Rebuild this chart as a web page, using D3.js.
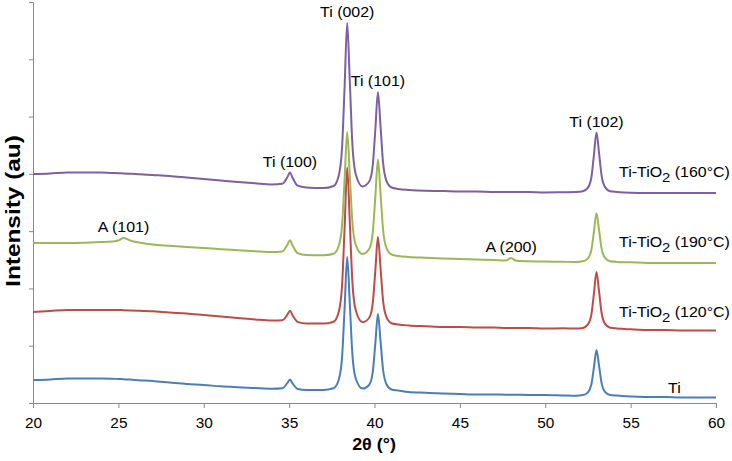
<!DOCTYPE html>
<html><head><meta charset="utf-8">
<script src="https://cdn.jsdelivr.net/npm/d3@7"></script>
<style>
body{margin:0;background:#fff}
svg{display:block}
text{font-family:"Liberation Sans",Arial,Helvetica,sans-serif;fill:#000}
</style>
</head><body>
<svg id="chart" width="732" height="461"></svg>
<script>
// ---- data (2θ in degrees, intensity in arbitrary units, curves already offset as plotted) ----
const twoTheta = [20,21,22,23,24,24.6,25.0,25.3,25.7,26.2,27,28,29,30,31,32,33,34,34.6,34.9,35.05,35.2,35.5,36,37,37.6,37.9,38.1,38.25,38.4,38.55,38.7,38.9,39.3,39.7,39.9,40.05,40.2,40.35,40.5,40.7,41.0,41.4,42,43,44,45,46,47,47.7,48.0,48.3,49,50,51,51.8,52.2,52.5,52.7,52.85,53.0,53.15,53.3,53.5,53.8,54.2,55,56,57,58,59,60];
const ti = [230,235,245,245,245,243,240,238,234,228,220,205,190,180,167,158,150,143,148,200,235,197,140,129,130,148,230,457,953,1463,1007,499,245,144,185,314,598,890,627,335,188,135,124,109,102,95,90,85,85,83,83,83,80,80,76,73,79,107,185,355,530,374,199,111,80,74,66,60,60,55,55,55];
const ti120 = [910,920,930,930,930,930,930,928,926,923,917,905,895,880,865,850,835,824,828,884,922,878,811,794,794,813,908,1175,1756,2354,1820,1224,927,808,855,1003,1327,1661,1360,1026,859,798,785,775,767,760,760,755,755,750,750,750,750,745,747,744,751,786,883,1093,1310,1116,900,791,753,745,737,730,730,725,725,725];
const ti190 = [1600,1600,1600,1603,1610,1615,1625,1650,1625,1605,1585,1572,1560,1550,1538,1528,1518,1509,1515,1583,1627,1576,1498,1479,1477,1492,1567,1778,2237,2709,2287,1817,1582,1490,1545,1709,2066,2435,2104,1735,1551,1484,1470,1460,1452,1445,1440,1435,1430,1425,1450,1422,1418,1415,1412,1410,1417,1446,1530,1711,1897,1730,1544,1451,1418,1411,1407,1400,1400,1400,1400,1400];
const ti160 = [2290,2295,2305,2305,2305,2300,2298,2295,2292,2288,2280,2270,2255,2240,2225,2210,2197,2186,2193,2260,2305,2253,2173,2155,2149,2170,2271,2553,3167,3799,3235,2605,2290,2166,2218,2381,2738,3107,2775,2407,2222,2155,2141,2131,2122,2120,2115,2115,2110,2110,2110,2110,2110,2105,2107,2109,2117,2153,2255,2477,2705,2501,2273,2159,2118,2110,2102,2100,2100,2100,2100,2100];

const seriesNames = ["Ti","Ti-TiO2 (120°C)","Ti-TiO2 (190°C)","Ti-TiO2 (160°C)"];
const seriesValues = [ti, ti120, ti190, ti160];
const seriesColors = ["#4a7ebb","#be4b48","#98b954","#7d60a0"];

const xTicks = [20,25,30,35,40,45,50,55,60];
const yMax = 4010;
const yTicks = d3.range(0,8).map(i => i*yMax/7);

// peak annotations: label, index of series it sits on, peak position (2θ)
const peakLabels = ["Ti (002)","Ti (101)","Ti (100)","Ti (102)","A (101)","A (200)"];
const peakSeries = [3,3,3,3,2,2];
const peakPos = [38.4,40.2,35.05,53.0,25.3,48.0];

const xTitle = "2θ (°)";
const yTitle = "Intensity (au)";

// ---- layout ----
const SX = 1.14; // horizontal glyph stretch seen in the reference
const svg = d3.select("#chart");
const x = d3.scaleLinear().domain([20,60]).range([33,716]);
const y = d3.scaleLinear().domain([0,yMax]).range([403,2]);
const axisColor = "#8a8a8a";

// y axis
const gy = svg.append("g").attr("transform","translate(33,0)")
  .call(d3.axisLeft(y).tickValues(yTicks).tickSize(4).tickSizeOuter(0).tickFormat(""));
gy.selectAll("path,line").attr("stroke",axisColor);

// x axis
const gx = svg.append("g").attr("transform","translate(0,403)")
  .call(d3.axisBottom(x).tickValues(xTicks).tickSize(5).tickSizeOuter(0).tickFormat(d3.format("d")));
gx.selectAll("path,line").attr("stroke",axisColor);
gx.selectAll("text").attr("font-size",14).attr("fill","#111")
  .attr("y",0).attr("dy",0)
  .attr("transform","translate(0,25) scale(1.1,1)");

// lines
const line = d3.line().x((d,i)=>x(twoTheta[i])).y(d=>y(d)).curve(d3.curveMonotoneX);
seriesValues.forEach((vals,k)=>{
  svg.append("path").datum(vals)
    .attr("d",line).attr("fill","none")
    .attr("stroke",seriesColors[k]).attr("stroke-width",2)
    .attr("stroke-linejoin","round");
});

// peak labels
peakLabels.forEach((lab,i)=>{
  const vals = seriesValues[peakSeries[i]];
  const idx = twoTheta.indexOf(peakPos[i]);
  const px = x(peakPos[i]), py = y(vals[idx]) - 6;
  svg.append("text").attr("text-anchor","middle").attr("font-size",14)
    .attr("transform","translate("+px+","+py+") scale("+SX+",1)")
    .text(lab);
});

// series labels at the right
function seriesLabel(name, lx, ly){
  const t = svg.append("text").attr("font-size",14)
    .attr("transform","translate("+lx+","+ly+") scale("+SX+",1)");
  const m = name.indexOf("TiO2");
  if(m<0){ t.text(name); return; }
  t.append("tspan").text(name.slice(0,m+3));
  t.append("tspan").attr("dy",5).attr("font-size",13).text("2");
  t.append("tspan").attr("dy",-5).text(name.slice(m+4));
}
const lastIdx = twoTheta.length-1;
seriesLabel(seriesNames[3], 619, y(seriesValues[3][lastIdx]) - 16);
seriesLabel(seriesNames[2], 619, y(seriesValues[2][lastIdx]) - 16);
seriesLabel(seriesNames[1], 619, y(seriesValues[1][lastIdx]) - 14);
seriesLabel(seriesNames[0], 668, y(seriesValues[0][lastIdx]) - 5);

// axis titles
svg.append("text").attr("text-anchor","middle").attr("font-size",16).attr("font-weight","bold")
  .attr("transform","translate(374,450) scale(1.12,1)").text(xTitle);
svg.append("text").attr("text-anchor","middle").attr("font-size",20).attr("font-weight","bold")
  .attr("transform","translate(20,211) rotate(-90) scale(1.22,1)").text(yTitle);
</script>
</body></html>
